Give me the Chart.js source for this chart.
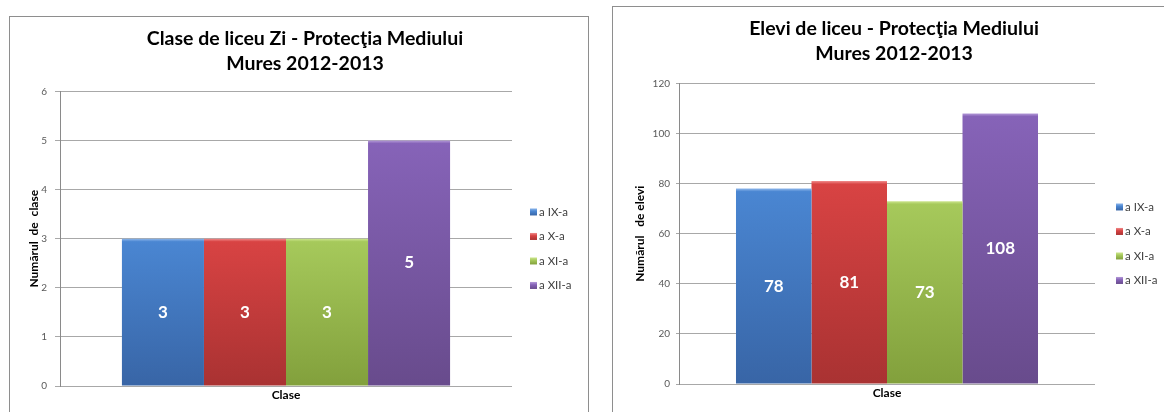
<!DOCTYPE html>
<html>
<head>
<meta charset="utf-8">
<script src="https://cdn.jsdelivr.net/npm/chart.js@4.4.1/dist/chart.umd.min.js"></script>
<style>
  html, body { margin: 0; padding: 0; background: #ffffff; }
  body { width: 1164px; height: 412px; position: relative; overflow: hidden; }
  .box { position: absolute; border: 1px solid #8e8e8e; background: #fff; }
  #box1 { left: 9px; top: 16px; width: 578px; height: 420px; }
  #box2 { left: 612px; top: 6px; width: 560px; height: 430px; }
  canvas { position: absolute; display: block; }
  #c1 { left: 10px; top: 17px; }
  #c2 { left: 613px; top: 7px; }
</style>
</head>
<body>
<div class="box" id="box1"></div>
<div class="box" id="box2"></div>
<canvas id="c1" width="577" height="395"></canvas>
<canvas id="c2" width="551" height="405"></canvas>
<script>
// ---- data ----
const categories = ['Clase'];
const seriesLabels = ['a IX-a', 'a X-a', 'a XI-a', 'a XII-a'];
const claseValues = [3, 3, 3, 5];
const eleviValues = [78, 81, 73, 108];
const claseTicks = [0, 1, 2, 3, 4, 5, 6];
const eleviTicks = [0, 20, 40, 60, 80, 100, 120];
const title1 = ['Clase de liceu Zi - Protecţia Mediului', 'Mures 2012-2013'];
const title2 = ['Elevi de liceu - Protecţia Mediului', 'Mures 2012-2013'];
const yTitle1 = 'Numărul  de  clase';
const yTitle2 = 'Numărul   de elevi';

// colour sets: [band, top, bottom]
const palette = [
  ['#8db6ea', '#4a86d2', '#3865a6'],
  ['#f08a8a', '#d84343', '#a93232'],
  ['#cde68f', '#a6c95b', '#82a03c'],
  ['#b49ad8', '#8663b8', '#684b8c']
];

function barGradient(ctx) {
  const chart = ctx.chart;
  const ca = chart.chartArea;
  const i = ctx.datasetIndex;
  const p = palette[i];
  if (!ca) return p[1];
  const ys = chart.scales.y;
  const v = chart.data.datasets[i].data[ctx.dataIndex];
  const top = ys.getPixelForValue(v);
  const base = ys.getPixelForValue(0);
  const h = Math.max(1, base - top);
  const g = chart.ctx.createLinearGradient(0, top, 0, base);
  const s = Math.min(0.3, 3 / h);
  g.addColorStop(0, p[0]);
  g.addColorStop(s, p[1]);
  g.addColorStop(1, p[2]);
  return g;
}

const valueLabels = {
  id: 'valueLabels',
  afterDatasetsDraw(chart) {
    const ctx = chart.ctx;
    ctx.save();
    ctx.font = 'bold 17px Lato';
    ctx.fillStyle = '#ffffff';
    ctx.textAlign = 'center';
    ctx.textBaseline = 'middle';
    chart.data.datasets.forEach((ds, i) => {
      const meta = chart.getDatasetMeta(i);
      meta.data.forEach((el, j) => {
        const y = (el.y + el.base) / 2;
        ctx.fillText(String(ds.data[j]), el.x, y);
      });
    });
    ctx.restore();
  }
};

const sideLegend = {
  id: 'sideLegend',
  afterDraw(chart, args, opts) {
    const ctx = chart.ctx;
    const ca = chart.chartArea;
    const n = chart.data.datasets.length;
    const step = 24.5;
    const mid = (ca.top + ca.bottom) / 2 + 10;
    const x = ca.right + opts.offset;
    ctx.save();
    ctx.font = '11.5px Lato';
    ctx.textBaseline = 'middle';
    ctx.textAlign = 'left';
    chart.data.datasets.forEach((ds, i) => {
      const y = mid + (i - (n - 1) / 2) * step;
      const p = palette[i];
      const g = ctx.createLinearGradient(0, y - 3.5, 0, y + 3.5);
      g.addColorStop(0, p[0]);
      g.addColorStop(0.4, p[1]);
      g.addColorStop(1, p[2]);
      ctx.fillStyle = g;
      ctx.fillRect(x, y - 3.5, 7, 7);
      ctx.fillStyle = '#404040';
      ctx.fillText(ds.label, x + 9, y);
    });
    ctx.restore();
  }
};

function makeChart(id, values, ticks, titleText, yTitle, cfg) {
  const datasets = seriesLabels.map((lab, i) => ({
    label: lab,
    data: [values[i]],
    backgroundColor: barGradient,
    borderWidth: 0,
    categoryPercentage: 0.726,
    barPercentage: 1.0
  }));
  return new Chart(document.getElementById(id), {
    type: 'bar',
    data: { labels: categories, datasets },
    plugins: [valueLabels, sideLegend],
    options: {
      responsive: false,
      animation: false,
      events: [],
      layout: { padding: { left: cfg.padLeft, right: 0, top: 0, bottom: 0 } },
      plugins: {
        legend: { display: false },
        tooltip: { enabled: false },
        sideLegend: { offset: cfg.legendOffset },
        title: {
          display: true,
          text: titleText,
          color: '#000000',
          font: { family: 'Lato', size: 19.5, weight: 'bold', lineHeight: 1.28 },
          padding: { top: 9.5, bottom: cfg.titleBottom }
        }
      },
      scales: {
        x: {
          grid: { display: false, drawTicks: false },
          border: { display: false },
          ticks: { color: '#000000', padding: 2, font: { family: 'Lato', size: 12, weight: 'bold' } },
          afterFit(s) { s.height = cfg.xHeight; }
        },
        y: {
          position: 'left',
          min: ticks[0],
          max: ticks[ticks.length - 1],
          afterBuildTicks(s) { s.ticks = ticks.map(v => ({ value: v })); },
          grid: { color: '#a8a8a8', lineWidth: 1, tickLength: cfg.tickLen, drawTicks: true },
          border: { display: true, color: '#8a8a8a', width: 1 },
          ticks: { color: '#595959', padding: cfg.tickPad, font: { family: 'Lato', size: 10 } },
          title: {
            display: true,
            text: yTitle,
            color: '#000000',
            font: { family: 'Lato', size: 12, weight: 'bold', lineHeight: 1.2 },
            padding: { top: cfg.yTitlePad, bottom: 0 }
          },
          afterFit(s) { s.width = cfg.yWidth; }
        },
        yRight: {
          type: 'linear',
          position: 'right',
          display: true,
          grid: { display: false, drawTicks: false },
          border: { display: false },
          ticks: { display: false },
          afterFit(s) { s.width = cfg.rightWidth; }
        }
      }
    }
  });
}

makeChart('c1', claseValues, claseTicks, title1, yTitle1, {
  padLeft: 13, yWidth: 37, rightWidth: 75, xHeight: 26, titleBottom: 15,
  tickLen: 5, tickPad: 8, yTitlePad: 3.8, legendOffset: 18
});
makeChart('c2', eleviValues, eleviTicks, title2, yTitle2, {
  padLeft: 11, yWidth: 55, rightWidth: 69, xHeight: 28, titleBottom: 17,
  tickLen: 3, tickPad: 6, yTitlePad: 8.8, legendOffset: 21
});
</script>
</body>
</html>
